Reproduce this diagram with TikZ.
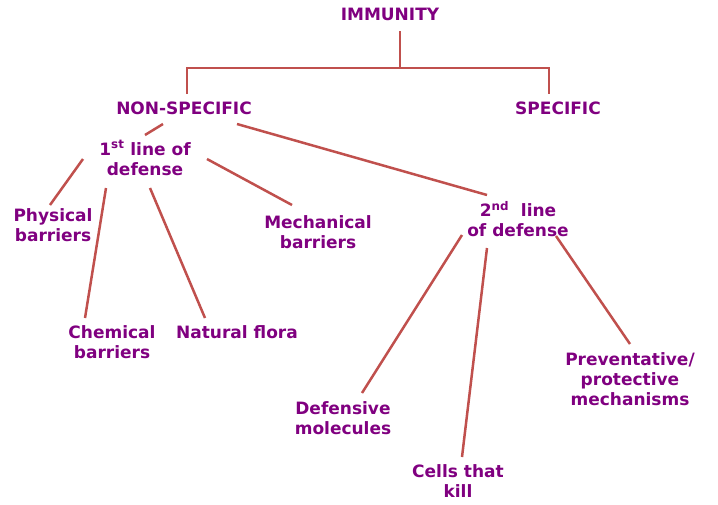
\documentclass[tikz,border=0pt]{standalone}
\usepackage{fontspec}
\setmainfont{DejaVu Sans}
\usepackage{xcolor}
\usepackage{tikz}
\definecolor{plum}{HTML}{800080}
\definecolor{brick}{HTML}{C0504D}

\begin{document}
\begin{tikzpicture}[x=1pt,y=-1pt,
  term/.style={text=plum,font=\bfseries\fontsize{17}{20}\selectfont,align=center,inner sep=0pt},
  link/.style={draw=brick,line width=2.5pt}]
\useasboundingbox (0,0) rectangle (718,504);
\node[term] (imm) at (390,14) {IMMUNITY};
\node[term] (nonspec) at (184,108) {NON-SPECIFIC};
\node[term] (spec) at (558,108) {SPECIFIC};
\node[term] (first) at (145,158) {1\textsuperscript{st} line of\\defense};
\node[term] (second) at (518,219) {2\textsuperscript{nd}\ \ line\\of defense};
\node[term] (phys) at (53,225) {Physical\\barriers};
\node[term] (mech) at (318,232) {Mechanical\\barriers};
\node[term] (chem) at (112,342) {Chemical\\barriers};
\node[term] (flora) at (237,332) {Natural flora};
\node[term] (defmol) at (343,418) {Defensive\\molecules};
\node[term] (cells) at (458,481) {Cells that\\kill};
\node[term] (prev) at (630,379) {Preventative/\\protective\\mechanisms};

\draw[link] ([shift={(10,17)}]imm.center) -- ++(0,37);
\draw[link] ([shift={(3,-14)}]nonspec.center) -- ++(0,-26) -| ([shift={(-9,-14)}]spec.center);

\draw[link] ([shift={(-21,16)}]nonspec.center) -- ([shift={(0,-23)}]first.center);
\draw[link] ([shift={(53,16)}]nonspec.center) -- ([shift={(-31,-24)}]second.center);

\draw[link] ([shift={(-62,1)}]first.center) -- ([shift={(-3,-20)}]phys.center);
\draw[link] ([shift={(-39,30)}]first.center) -- ([shift={(-27,-24)}]chem.center);
\draw[link] ([shift={(5,30)}]first.center) -- ([shift={(-32,-14)}]flora.center);
\draw[link] ([shift={(62,1)}]first.center) -- ([shift={(-26,-27)}]mech.center);

\draw[link] ([shift={(-56,16)}]second.center) -- ([shift={(19,-25)}]defmol.center);
\draw[link] ([shift={(-31,29)}]second.center) -- ([shift={(4,-24)}]cells.center);
\draw[link] ([shift={(38,17)}]second.center) -- ([shift={(0,-35)}]prev.center);
\end{tikzpicture}
\end{document}
